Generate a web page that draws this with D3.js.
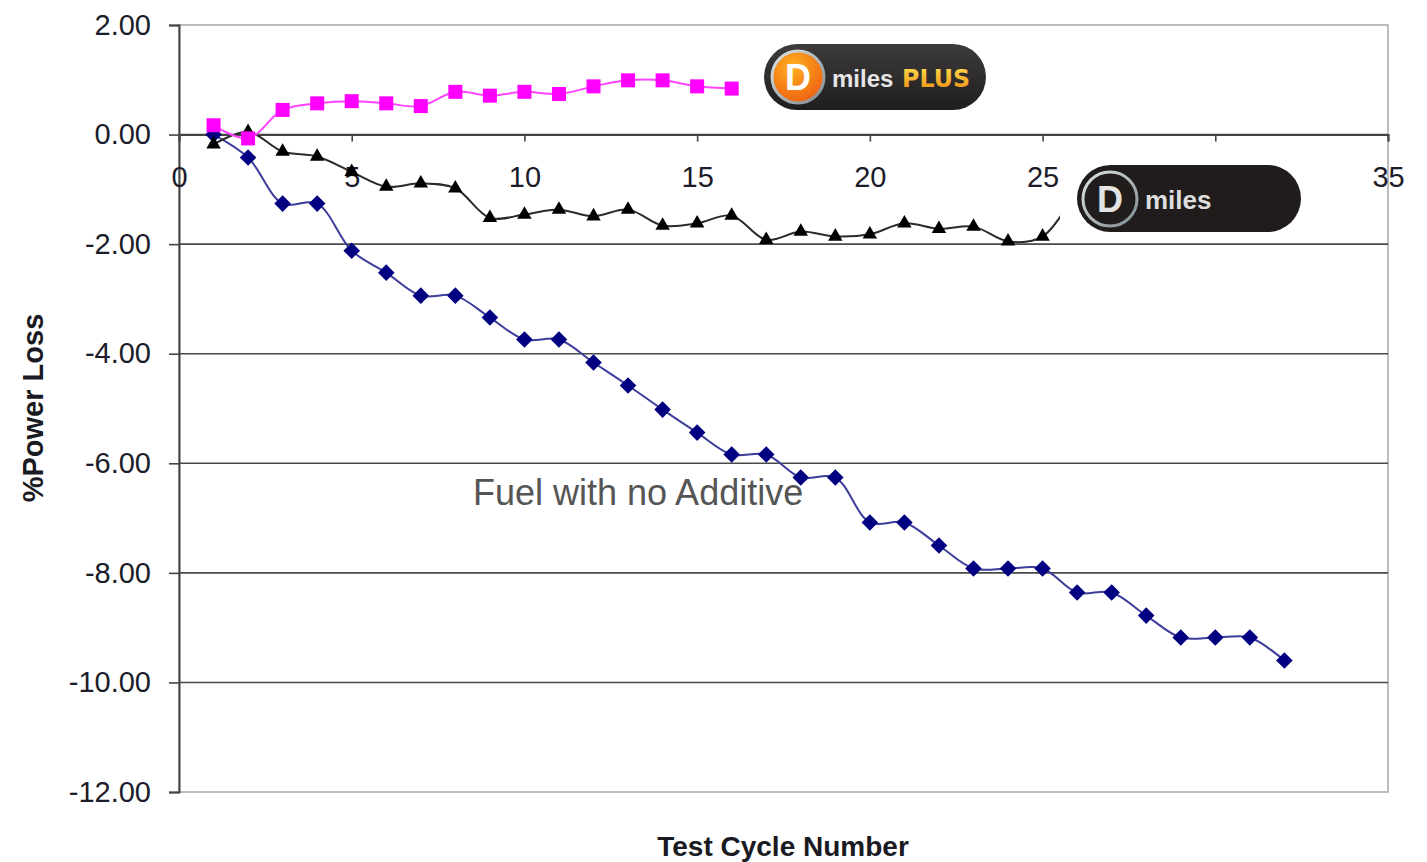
<!DOCTYPE html>
<html>
<head>
<meta charset="utf-8">
<script src="https://cdn.jsdelivr.net/npm/d3@7"></script>
<style>
  html, body { margin: 0; padding: 0; background: #fff; }
  svg { display: block; font-family: Arial, "Liberation Sans", sans-serif; }
</style>
</head>
<body>
<svg id="chart" width="1427" height="862"></svg>
<script>
// ---- Data ----
const cyclesNoAdditive = d3.range(1, 33);
const noAdditive = [0.00, -0.42, -1.26, -1.26, -2.12, -2.52, -2.94, -2.94, -3.34, -3.74,
  -3.74, -4.16, -4.58, -5.02, -5.44, -5.84, -5.84, -6.26, -6.26, -7.08,
  -7.08, -7.50, -7.92, -7.92, -7.92, -8.36, -8.36, -8.78, -9.18, -9.18,
  -9.18, -9.60];
const cyclesMiles = d3.range(1, 27);
const dMiles = [-0.18, 0.05, -0.31, -0.40, -0.68, -0.95, -0.89, -0.98, -1.52, -1.46,
  -1.37, -1.49, -1.37, -1.66, -1.62, -1.48, -1.92, -1.77, -1.86, -1.82,
  -1.62, -1.72, -1.68, -1.95, -1.86, -1.00];
const cyclesPlus = d3.range(1, 17);
const dMilesPlus = [0.17, -0.07, 0.45, 0.57, 0.61, 0.57, 0.52, 0.78, 0.71, 0.78,
  0.74, 0.88, 0.99, 0.99, 0.88, 0.84];
const xTicks = [0, 5, 10, 15, 20, 25, 30, 35];
const yTicks = [2, 0, -2, -4, -6, -8, -10, -12];
const xTitle = "Test Cycle Number";
const yTitle = "%Power Loss";
const annotation = "Fuel with no Additive";

// ---- Layout ----
const svg = d3.select("#chart");
const pL = 179, pR = 1388, pT = 25, pB = 792;
const x = d3.scaleLinear().domain([0, 35]).range([pL, pR]);
const y = d3.scaleLinear().domain([-12, 2]).range([pB, pT]);

const defs = svg.append("defs");

// Plot border (light gray)
svg.append("rect").attr("x", pL).attr("y", pT)
  .attr("width", pR - pL).attr("height", pB - pT)
  .attr("fill", "none").attr("stroke", "#a8a8a8").attr("stroke-width", 1.5);

// Horizontal gridlines
svg.append("g").selectAll("line")
  .data(yTicks.filter(d => d !== 2 && d !== -12))
  .join("line")
  .attr("x1", pL).attr("x2", pR)
  .attr("y1", d => y(d)).attr("y2", d => y(d))
  .attr("stroke", "#4a4a4a").attr("stroke-width", 1.6);

// Y axis
const yAxis = svg.append("g").attr("transform", `translate(${pL},0)`)
  .call(d3.axisLeft(y).tickValues(yTicks).tickFormat(d => d3.format(".2f")(d).replace("\u2212", "-")).tickSize(10).tickPadding(18));
yAxis.select(".domain").attr("stroke", "#444").attr("stroke-width", 2);
yAxis.selectAll(".tick line").attr("stroke", "#444").attr("stroke-width", 1.6);
yAxis.selectAll(".tick text").attr("font-size", 29).attr("fill", "#1c1c2a")
  .attr("font-family", "Arial, 'Liberation Sans', sans-serif");

// X axis at y = 0
const xAxis = svg.append("g").attr("transform", `translate(0,${y(0)})`)
  .call(d3.axisBottom(x).tickValues(xTicks).tickSize(7).tickPadding(25));
xAxis.select(".domain").attr("stroke", "#444").attr("stroke-width", 2);
xAxis.selectAll(".tick line").attr("stroke", "#444").attr("stroke-width", 1.6);
xAxis.selectAll(".tick text").attr("font-size", 29).attr("fill", "#1c1c2a")
  .attr("font-family", "Arial, 'Liberation Sans', sans-serif");

// Line generator (smoothed, like the original spreadsheet chart)
const line = d3.line().x(d => x(d[0])).y(d => y(d[1])).curve(d3.curveCatmullRom.alpha(0.5));

// No additive series (navy diamonds)
const naData = cyclesNoAdditive.map((c, i) => [c, noAdditive[i]]);
svg.append("path").datum(naData).attr("d", line)
  .attr("fill", "none").attr("stroke", "#3d3d9c").attr("stroke-width", 2);
svg.append("g").selectAll("path").data(naData).join("path")
  .attr("d", d3.symbol(d3.symbolDiamond2, 175)())
  .attr("transform", d => `translate(${x(d[0])},${y(d[1])})`)
  .attr("fill", "#000080");

// D miles series (black triangles)
const dmData = cyclesMiles.map((c, i) => [c, dMiles[i]]);
svg.append("path").datum(dmData).attr("d", line)
  .attr("fill", "none").attr("stroke", "#2a2a2a").attr("stroke-width", 2);
svg.append("g").selectAll("path").data(dmData).join("path")
  .attr("d", d3.symbol(d3.symbolTriangle2, 150)())
  .attr("transform", d => `translate(${x(d[0])},${y(d[1])})`)
  .attr("fill", "#000");

// D miles PLUS series (magenta squares)
const dpData = cyclesPlus.map((c, i) => [c, dMilesPlus[i]]);
svg.append("path").datum(dpData).attr("d", line)
  .attr("fill", "none").attr("stroke", "#ff44ff").attr("stroke-width", 2);
svg.append("g").selectAll("rect").data(dpData).join("rect")
  .attr("x", d => x(d[0]) - 7).attr("y", d => y(d[1]) - 7)
  .attr("width", 14).attr("height", 14)
  .attr("fill", "#ff00ff");

// Annotation
svg.append("text").attr("x", 473).attr("y", 505)
  .attr("font-size", 36).attr("fill", "#555").text(annotation);

// Axis titles
svg.append("text").attr("x", 783).attr("y", 856).attr("text-anchor", "middle")
  .attr("font-size", 28).attr("font-weight", "bold").attr("fill", "#1a1a22").text(xTitle);
svg.append("text").attr("transform", "translate(43,408) rotate(-90)").attr("text-anchor", "middle")
  .attr("font-size", 29).attr("font-weight", "bold").attr("fill", "#1a1a22").text(yTitle);

// ---- Logos ----
const pillGrad = defs.append("linearGradient").attr("id", "pill").attr("x1", 0).attr("y1", 0).attr("x2", 0).attr("y2", 1);
pillGrad.append("stop").attr("offset", "0%").attr("stop-color", "#3d3b3b");
pillGrad.append("stop").attr("offset", "100%").attr("stop-color", "#1f1d1d");
const orange = defs.append("radialGradient").attr("id", "orange").attr("cx", "40%").attr("cy", "30%").attr("r", "75%");
orange.append("stop").attr("offset", "0%").attr("stop-color", "#ffb020");
orange.append("stop").attr("offset", "100%").attr("stop-color", "#ee5f10");
const plusGrad = defs.append("linearGradient").attr("id", "plusg").attr("x1", 0).attr("y1", 0).attr("x2", 0).attr("y2", 1);
plusGrad.append("stop").attr("offset", "0%").attr("stop-color", "#ffe050");
plusGrad.append("stop").attr("offset", "100%").attr("stop-color", "#f08a10");
const ring = defs.append("linearGradient").attr("id", "ring").attr("x1", 0).attr("y1", 0).attr("x2", 1).attr("y2", 1);
ring.append("stop").attr("offset", "0%").attr("stop-color", "#e0e4e6");
ring.append("stop").attr("offset", "100%").attr("stop-color", "#7d8a90");

// Logo 1: D miles PLUS
const l1 = svg.append("g");
l1.append("rect").attr("x", 764).attr("y", 44).attr("width", 222).attr("height", 66).attr("rx", 33)
  .attr("fill", "url(#pill)");
l1.append("circle").attr("cx", 798).attr("cy", 77).attr("r", 26)
  .attr("fill", "url(#orange)").attr("stroke", "url(#ring)").attr("stroke-width", 3);
l1.append("text").attr("x", 798).attr("y", 90).attr("text-anchor", "middle")
  .attr("font-size", 36).attr("font-weight", "bold").attr("fill", "#fff").text("D");
l1.append("text").attr("x", 832).attr("y", 87)
  .attr("font-size", 24).attr("font-weight", "bold").attr("fill", "#e6e6e6").text("miles");
l1.append("text").attr("x", 902).attr("y", 87)
  .attr("font-size", 24).attr("font-weight", "bold").attr("font-family", "'DejaVu Sans', sans-serif")
  .attr("fill", "url(#plusg)").attr("textLength", 68).attr("lengthAdjust", "spacingAndGlyphs").text("PLUS");

// Logo 2: D miles (white backing hides the line behind)
const l2 = svg.append("g");
l2.append("rect").attr("x", 1060).attr("y", 158).attr("width", 262).attr("height", 85).attr("fill", "#fff");
l2.append("rect").attr("x", 1077).attr("y", 165).attr("width", 224).attr("height", 67).attr("rx", 33.5)
  .attr("fill", "#201c1c");
l2.append("circle").attr("cx", 1110).attr("cy", 199).attr("r", 27)
  .attr("fill", "#201c1c").attr("stroke", "url(#ring)").attr("stroke-width", 3);
l2.append("text").attr("x", 1110).attr("y", 212).attr("text-anchor", "middle")
  .attr("font-size", 36).attr("font-weight", "bold").attr("fill", "#e4e4e4").text("D");
l2.append("text").attr("x", 1145).attr("y", 209)
  .attr("font-size", 26).attr("font-weight", "bold").attr("fill", "#dedede").text("miles");
</script>
</body>
</html>
